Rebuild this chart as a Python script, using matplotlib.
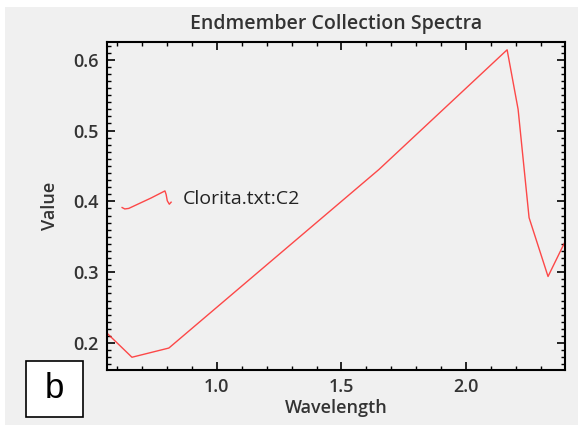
import matplotlib
matplotlib.use("Agg")
from matplotlib import pyplot as plt
from matplotlib.ticker import MultipleLocator
from matplotlib.patches import Rectangle
import numpy as np

# spectrum
wavelength = [0.56, 0.66, 0.808, 1.65, 2.164, 2.208, 2.252, 2.328, 2.396]
value = [0.214, 0.180, 0.193, 0.445, 0.614, 0.530, 0.377, 0.294, 0.343]
label = "Clorita.txt:C2"

plt.rcParams["font.family"] = ["Open Sans", "DejaVu Sans"]

fig = plt.figure(figsize=(5.78, 4.25), dpi=100)
fig.patch.set_facecolor("white")
fig.patches.append(Rectangle((5 / 578, 0), 1, 418 / 425, transform=fig.transFigure,
                             facecolor="#f0f0f0", edgecolor="none", zorder=-10))

ax = fig.add_axes([107 / 578, 55 / 425, 458 / 578, 328 / 425])
ax.set_facecolor("#f0f0f0")
ax.plot(wavelength, value, color="#ff2a2a", lw=1.0, alpha=0.85)
ax.set_xlim(0.56, 2.396)
ax.set_ylim(0.162, 0.625)

ax.xaxis.set_major_locator(MultipleLocator(0.5))
ax.xaxis.set_minor_locator(MultipleLocator(0.1))
ax.yaxis.set_major_locator(MultipleLocator(0.1))
ax.yaxis.set_minor_locator(MultipleLocator(0.01))
ax.tick_params(which="both", direction="in", top=True, right=True, color="black",
               labelsize=13, labelcolor="#333333")
ax.tick_params(which="major", length=6, width=1.2, pad=6)
ax.tick_params(which="minor", length=3, width=1.0)
for t in ax.get_xticklabels() + ax.get_yticklabels():
    t.set_fontweight("semibold")
for s in ax.spines.values():
    s.set_linewidth(1.5)

ax.set_title("Endmember Collection Spectra", fontsize=14, color="#333333",
             pad=9, fontweight="semibold")
ax.set_xlabel("Wavelength", fontsize=13, color="#333333", labelpad=2,
              fontweight="semibold")
ax.set_ylabel("Value", fontsize=13, color="#333333", labelpad=10,
              fontweight="semibold")

# legend: tiny copy of the spectrum next to the name
wl = np.array(wavelength)
v = np.array(value)
lx = 0.033 + (wl - wl.min()) / (wl.max() - wl.min()) * 0.107
ly = 0.491 + (v - v.min()) / (v.max() - v.min()) * 0.055
ax.plot(lx, ly, color="#ff2a2a", lw=1.0, alpha=0.85, transform=ax.transAxes)
ax.text(0.166, 0.521, label, transform=ax.transAxes, fontsize=14,
        color="#222222", va="center", ha="left")

# panel letter
fig.patches.append(Rectangle((26 / 578, 8 / 425), 57 / 578, 56 / 425,
                             transform=fig.transFigure, facecolor="white",
                             edgecolor="black", lw=1.2))
fig.text(54.5 / 578, 36 / 425, "b", fontsize=25, ha="center", va="center",
         family="Liberation Sans")

fig.savefig("out.png", dpi=100, facecolor=fig.get_facecolor())
